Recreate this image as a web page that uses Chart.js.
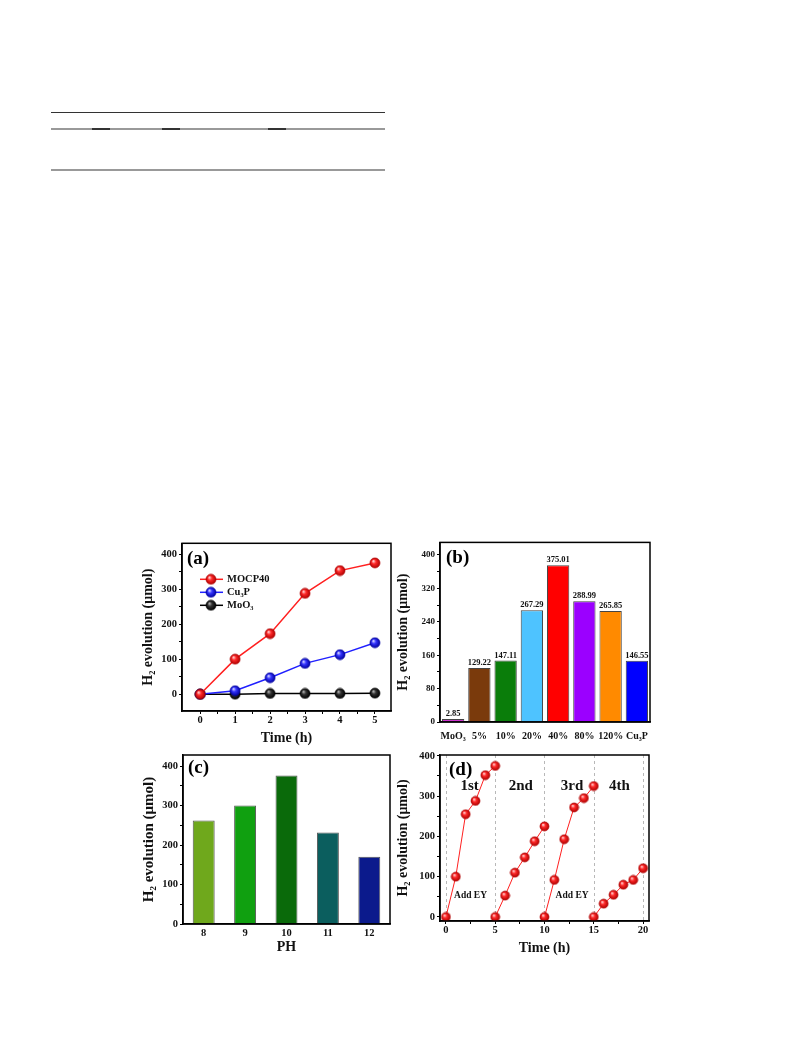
<!DOCTYPE html>
<html>
<head>
<meta charset="utf-8">
<script src="https://cdn.jsdelivr.net/npm/chart.js@4.4.0/dist/chart.umd.min.js"></script>
<style>
    body { margin: 0; background: #fff; width: 793px; height: 1057px; position: relative; overflow: hidden; }
    canvas { position: absolute; }
    .linha { position: absolute; left: 51px; width: 334px; }
    .traco { position: absolute; top: 128px; width: 18px; height: 2px; background: #333; }
</style>
</head>
<body>
<div class="linha" style="top:112px;height:1px;background:#333"></div>
<div class="linha" style="top:128px;height:2px;background:#999"></div>
<div class="traco" style="left:92px"></div>
<div class="traco" style="left:162px"></div>
<div class="traco" style="left:268px"></div>
<div class="linha" style="top:169px;height:2px;background:#999"></div>

<canvas id="GraficoTempo" width="260" height="215" style="left:140px;top:535px"></canvas>
<canvas id="GraficoAmostras" width="270" height="215" style="left:395px;top:535px"></canvas>
<canvas id="GraficoPH" width="260" height="215" style="left:140px;top:745px"></canvas>
<canvas id="GraficoCiclos" width="270" height="215" style="left:395px;top:745px"></canvas>

<script>
// (a) producao de H2 por tempo
var horas = [0, 1, 2, 3, 4, 5];
var mocp40 = [0, 100, 173, 288, 353, 375];
var cu3p = [0, 10, 47, 88, 113, 147];
var moo3 = [0, 0, 2, 2, 2, 3];

// (b) amostras
var amostras = ['MoO₃', '5%', '10%', '20%', '40%', '80%', '120%', 'Cu₃P'];
var producaoAmostras = [2.85, 129.22, 147.11, 267.29, 375.01, 288.99, 265.85, 146.55];

// (c) pH
var valoresPH = ['8', '9', '10', '11', '12'];
var producaoPH = [262, 300, 376, 232, 170];

// (d) ciclos
var ciclos = ['1st', '2nd', '3rd', '4th'];
var temposCiclo1 = [0, 1, 2, 3, 4, 5];
var temposCiclo2 = [5, 6, 7, 8, 9, 10];
var temposCiclo3 = [10, 11, 12, 13, 14, 15];
var temposCiclo4 = [15, 16, 17, 18, 19, 20];
var producaoCiclo1 = [0, 100, 255, 288, 352, 375];
var producaoCiclo2 = [0, 53, 110, 148, 188, 225];
var producaoCiclo3 = [0, 92, 193, 272, 295, 325];
var producaoCiclo4 = [0, 33, 55, 80, 92, 121];
var inicioCiclos = [0, 5, 10, 15, 20];

// ticks
var ticksHoras = [0, 0.5, 1, 1.5, 2, 2.5, 3, 3.5, 4, 4.5, 5];
var ticksProducaoA = [0, 50, 100, 150, 200, 250, 300, 350, 400];
var ticksProducaoB = [0, 40, 80, 120, 160, 200, 240, 280, 320, 360, 400];
var ticksProducaoC = [0, 50, 100, 150, 200, 250, 300, 350, 400];
var ticksCiclos = [0, 2.5, 5, 7.5, 10, 12.5, 15, 17.5, 20];
var ticksProducaoD = [0, 50, 100, 150, 200, 250, 300, 350, 400];

var FONTE = "'Liberation Serif', 'Times New Roman', serif";
var TITULO_Y = 'H₂ evolution (μmol)';

Chart.defaults.font.family = FONTE;
Chart.defaults.font.weight = 'bold';
Chart.defaults.color = '#111';
Chart.defaults.animation = false;
Chart.defaults.events = [];
Chart.defaults.plugins.legend.display = false;
Chart.defaults.plugins.tooltip.enabled = false;

function CriarEsfera(cor, escura, brilho, raio) {
    var c = document.createElement('canvas');
    var d = raio * 2 + 2;
    c.width = d;
    c.height = d;
    var g = c.getContext('2d');
    var m = d / 2;
    var grad = g.createRadialGradient(m - raio * 0.35, m - raio * 0.4, raio * 0.05, m, m, raio);
    grad.addColorStop(0, brilho);
    grad.addColorStop(0.4, cor);
    grad.addColorStop(1, escura);
    g.fillStyle = grad;
    g.beginPath();
    g.arc(m, m, raio, 0, Math.PI * 2);
    g.fill();
    g.lineWidth = 0.7;
    g.strokeStyle = escura;
    g.stroke();
    return c;
}

function TamanhoFixo(px) {
    return function (escala) {
        if (escala.isHorizontal()) escala.height = px;
        else escala.width = px;
    };
}

function FixarTicks(valores) {
    return function (escala) {
        escala.ticks = valores.map(function (v) { return { value: v }; });
    };
}

function SoMultiplos(passo) {
    return function (valor) {
        return Math.abs(valor / passo - Math.round(valor / passo)) < 1e-6 ? valor : '';
    };
}

function Moldura() {
    return {
        id: 'moldura',
        afterDraw: function (chart) {
            var a = chart.chartArea, ctx = chart.ctx;
            ctx.save();
            ctx.strokeStyle = '#000';
            ctx.lineWidth = 1.5;
            ctx.strokeRect(a.left, a.top, a.right - a.left, a.bottom - a.top);
            ctx.restore();
        }
    };
}

function Letra(texto, dx, dy) {
    return {
        id: 'letra',
        afterDraw: function (chart) {
            var a = chart.chartArea, ctx = chart.ctx;
            ctx.save();
            ctx.font = 'bold 19px ' + FONTE;
            ctx.fillStyle = '#000';
            ctx.textBaseline = 'middle';
            ctx.fillText(texto, a.left + dx, a.top + dy);
            ctx.restore();
        }
    };
}

function EixoY(min, max, ticks, passo, largura, tamTitulo, tamTick) {
    return {
        min: min, max: max,
        afterBuildTicks: FixarTicks(ticks),
        afterFit: TamanhoFixo(largura),
        grid: { drawOnChartArea: false, color: '#000', tickLength: 3 },
        border: { color: '#000', width: 1.5 },
        ticks: { callback: SoMultiplos(passo), padding: 2, color: '#111', font: { size: tamTick, weight: 'bold' } },
        title: { display: true, text: TITULO_Y, color: '#111', padding: { top: 0, bottom: 0 }, font: { size: tamTitulo, weight: 'bold' } }
    };
}

var esferaVermelha = CriarEsfera('#ff2a2a', '#b00000', '#ffe0e0', 5);
var esferaAzul = CriarEsfera('#3636ff', '#0000a0', '#e0e0ff', 5);
var esferaPreta = CriarEsfera('#333333', '#000000', '#bbbbbb', 5);
var esferaVermelhaD = CriarEsfera('#ff2a2a', '#b00000', '#ffe0e0', 4.5);

// (a)
function MontarPontos(xs, ys) {
    var pontos = [];
    var indice = 0;
    while (indice < xs.length) {
        pontos.push({ x: xs[indice], y: ys[indice] });
        indice++;
    }
    return pontos;
}

var legendaA = {
    id: 'legendaA',
    afterDraw: function (chart) {
        var a = chart.chartArea, ctx = chart.ctx;
        var linhas = [36, 49, 62];
        ctx.save();
        chart.data.datasets.forEach(function (ds, i) {
            var y = a.top + linhas[i];
            ctx.strokeStyle = ds.borderColor;
            ctx.lineWidth = 1.5;
            ctx.beginPath();
            ctx.moveTo(a.left + 18, y);
            ctx.lineTo(a.left + 41, y);
            ctx.stroke();
            ctx.drawImage(ds.pointStyle, a.left + 29 - ds.pointStyle.width / 2, y - ds.pointStyle.height / 2);
            ctx.font = 'bold 10.5px ' + FONTE;
            ctx.fillStyle = '#111';
            ctx.textBaseline = 'middle';
            ctx.fillText(ds.label, a.left + 45, y);
        });
        ctx.restore();
    }
};

new Chart(document.getElementById('GraficoTempo'), {
    type: 'line',
    data: {
        datasets: [
            { label: 'MOCP40', data: MontarPontos(horas, mocp40), borderColor: '#ff2020', borderWidth: 1.5, pointStyle: esferaVermelha },
            { label: 'Cu₃P', data: MontarPontos(horas, cu3p), borderColor: '#2020ff', borderWidth: 1.5, pointStyle: esferaAzul },
            { label: 'MoO₃', data: MontarPontos(horas, moo3), borderColor: '#000000', borderWidth: 1.5, pointStyle: esferaPreta }
        ]
    },
    options: {
        responsive: false,
        layout: { padding: { top: 6, right: 9, left: 0, bottom: 0 } },
        scales: {
            x: {
                type: 'linear', min: -0.52, max: 5.46,
                afterBuildTicks: FixarTicks(ticksHoras),
                afterFit: TamanhoFixo(39),
                grid: { drawOnChartArea: false, color: '#000', tickLength: 3 },
                border: { color: '#000', width: 1.5 },
                ticks: { callback: SoMultiplos(1), padding: 0, maxRotation: 0, color: '#111', font: { size: 10.5, weight: 'bold' } },
                title: { display: true, text: 'Time (h)', color: '#111', padding: { top: 0, bottom: 3 }, font: { size: 14, weight: 'bold' } }
            },
            y: EixoY(-48, 431, ticksProducaoA, 100, 42, 14, 10.5)
        }
    },
    plugins: [Moldura(), Letra('(a)', 5, 16), legendaA]
});

// (b)
var coresAmostras = ['#cc33cc', '#7a3a0c', '#0a7d0a', '#4ec3ff', '#ff0000', '#9b00ff', '#ff8a00', '#0000ff'];

var rotulosBarras = {
    id: 'rotulosBarras',
    afterDatasetsDraw: function (chart) {
        var ctx = chart.ctx;
        var meta = chart.getDatasetMeta(0);
        ctx.save();
        ctx.font = 'bold 8.5px ' + FONTE;
        ctx.fillStyle = '#111';
        ctx.textAlign = 'center';
        ctx.textBaseline = 'bottom';
        meta.data.forEach(function (barra, i) {
            ctx.fillText(producaoAmostras[i].toFixed(2), barra.x, barra.y - 1);
        });
        ctx.restore();
    }
};

new Chart(document.getElementById('GraficoAmostras'), {
    type: 'bar',
    data: {
        labels: amostras,
        datasets: [{
            data: producaoAmostras,
            backgroundColor: coresAmostras,
            borderColor: '#444',
            borderWidth: 1,
            minBarLength: 3,
            barPercentage: 0.85,
            categoryPercentage: 1
        }]
    },
    options: {
        responsive: false,
        layout: { padding: { top: 7, right: 15, left: 0, bottom: 0 } },
        scales: {
            x: {
                afterFit: TamanhoFixo(28),
                grid: { display: false, drawTicks: false },
                border: { color: '#000', width: 1.5 },
                ticks: { padding: 8, maxRotation: 0, autoSkip: false, color: '#111', font: { size: 10, weight: 'bold' } }
            },
            y: EixoY(0, 430, ticksProducaoB, 80, 45, 14, 9)
        }
    },
    plugins: [Moldura(), Letra('(b)', 6, 16), rotulosBarras]
});

// (c)
var coresPH = ['#6fa81c', '#10a010', '#0a6a0a', '#0b5e5e', '#0b1a8c'];

new Chart(document.getElementById('GraficoPH'), {
    type: 'bar',
    data: {
        labels: valoresPH,
        datasets: [{
            data: producaoPH,
            backgroundColor: coresPH,
            borderColor: '#555',
            borderWidth: 1,
            barPercentage: 0.53,
            categoryPercentage: 1
        }]
    },
    options: {
        responsive: false,
        layout: { padding: { top: 10, right: 10, left: 0, bottom: 0 } },
        scales: {
            x: {
                afterFit: TamanhoFixo(36),
                grid: { display: false, drawTicks: false },
                border: { color: '#000', width: 1.5 },
                ticks: { padding: 3, maxRotation: 0, color: '#111', font: { size: 10.5, weight: 'bold' } },
                title: { display: true, text: 'PH', color: '#111', padding: { top: 0, bottom: 4 }, font: { size: 14, weight: 'bold' } }
            },
            y: EixoY(0, 428, ticksProducaoC, 100, 43, 15, 10.5)
        }
    },
    plugins: [Moldura(), Letra('(c)', 5, 13)]
});

// (d)
var notasCiclos = {
    id: 'notasCiclos',
    beforeDatasetsDraw: function (chart) {
        var a = chart.chartArea, ctx = chart.ctx, x = chart.scales.x;
        ctx.save();
        ctx.strokeStyle = '#b8b8b8';
        ctx.lineWidth = 1;
        ctx.setLineDash([3, 3]);
        inicioCiclos.forEach(function (t) {
            var px = Math.round(x.getPixelForValue(t)) + 0.5;
            ctx.beginPath();
            ctx.moveTo(px, a.top);
            ctx.lineTo(px, a.bottom);
            ctx.stroke();
        });
        ctx.restore();
    },
    afterDraw: function (chart) {
        var ctx = chart.ctx, x = chart.scales.x, y = chart.scales.y;
        var posicoes = [2.4, 7.6, 12.8, 17.6];
        ctx.save();
        ctx.fillStyle = '#111';
        ctx.textAlign = 'center';
        ctx.textBaseline = 'middle';
        ctx.font = 'bold 15px ' + FONTE;
        ciclos.forEach(function (nome, i) {
            ctx.fillText(nome, x.getPixelForValue(posicoes[i]), y.getPixelForValue(325));
        });
        ctx.font = 'bold 9.5px ' + FONTE;
        [2.5, 12.8].forEach(function (t) {
            ctx.fillText('Add EY', x.getPixelForValue(t), y.getPixelForValue(52));
        });
        ctx.restore();
    }
};

function SerieCiclo(tempos, valores) {
    return { data: MontarPontos(tempos, valores), borderColor: '#ff2020', borderWidth: 1, pointStyle: esferaVermelhaD };
}

new Chart(document.getElementById('GraficoCiclos'), {
    type: 'line',
    data: {
        datasets: [
            SerieCiclo(temposCiclo1, producaoCiclo1),
            SerieCiclo(temposCiclo2, producaoCiclo2),
            SerieCiclo(temposCiclo3, producaoCiclo3),
            SerieCiclo(temposCiclo4, producaoCiclo4)
        ]
    },
    options: {
        responsive: false,
        layout: { padding: { top: 10, right: 16, left: 0, bottom: 0 } },
        scales: {
            x: {
                type: 'linear', min: -0.6, max: 20.6,
                afterBuildTicks: FixarTicks(ticksCiclos),
                afterFit: TamanhoFixo(39),
                grid: { drawOnChartArea: false, color: '#000', tickLength: 3 },
                border: { color: '#000', width: 1.5 },
                ticks: { callback: SoMultiplos(5), padding: 0, maxRotation: 0, color: '#111', font: { size: 10.5, weight: 'bold' } },
                title: { display: true, text: 'Time (h)', color: '#111', padding: { top: 0, bottom: 3 }, font: { size: 14, weight: 'bold' } }
            },
            y: EixoY(-10, 402, ticksProducaoD, 100, 45, 14, 10.5)
        }
    },
    plugins: [Moldura(), Letra('(d)', 9, 15), notasCiclos]
});
</script>
</body>
</html>
